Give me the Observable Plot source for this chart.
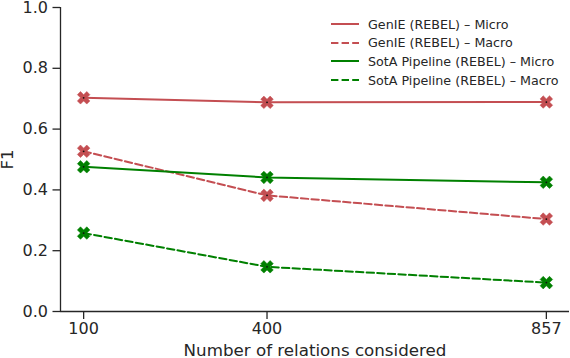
<!DOCTYPE html>
<html>
<head>
<meta charset="utf-8">
<script src="https://cdn.jsdelivr.net/npm/d3@7"></script>
<script src="https://cdn.jsdelivr.net/npm/@observablehq/plot@0.6"></script>
<style>
  body { margin: 0; background: #fff; }
  #wrap { position: relative; width: 570px; height: 358px; font-family: "DejaVu Sans", sans-serif; }
  #legend { position: absolute; left: 331px; top: 15px; font-size: 12.7px; color: #262626; }
  #legend .row { display: flex; align-items: center; height: 18.6px; }
  #legend svg { margin-right: 9px; }
</style>
</head>
<body>
<div id="wrap"></div>
<script>
const relations = [100, 400, 857];
const genieMicro = [0.703, 0.688, 0.689];
const genieMacro = [0.527, 0.382, 0.304];
const sotaMicro = [0.476, 0.441, 0.425];
const sotaMacro = [0.258, 0.147, 0.095];
const seriesNames = [
  "GenIE (REBEL) – Micro",
  "GenIE (REBEL) – Macro",
  "SotA Pipeline (REBEL) – Micro",
  "SotA Pipeline (REBEL) – Macro"
];
const yTicks = [0, 0.2, 0.4, 0.6, 0.8, 1.0];

const RED = "#c44e52", GREEN = "#008000";
const styles = [
  {color: RED, dash: null},
  {color: RED, dash: "7.4,3.2"},
  {color: GREEN, dash: null},
  {color: GREEN, dash: "7.4,3.2"}
];
const allValues = [genieMicro, genieMacro, sotaMicro, sotaMacro];
const series = allValues.map((vals, i) => relations.map((r, j) => ({x: r, y: vals[j], s: seriesNames[i]})));

const span = relations[relations.length - 1] - relations[0];
const xDomain = [relations[0] - 0.05 * span, relations[relations.length - 1] + 0.05 * span];
const axisColor = "#262626";

const marks = [];
series.forEach((d, i) => {
  marks.push(Plot.line(d, {x: "x", y: "y", stroke: styles[i].color, strokeWidth: 2, strokeDasharray: styles[i].dash}));
});
series.forEach((d, i) => {
  marks.push(Plot.dot(d, {x: "x", y: "y", symbol: "cross", rotate: 45, r: 5.6, fill: styles[i].color, stroke: styles[i].color, strokeWidth: 0.5}));
  marks.push(Plot.dot(d, {x: "x", y: "y", r: 0.9, fill: "#111"}));
});
marks.push(Plot.ruleX([xDomain[0]], {stroke: axisColor, strokeWidth: 1.3}));
marks.push(Plot.ruleY([0], {stroke: axisColor, strokeWidth: 1.3}));
marks.push(Plot.axisX({ticks: relations, tickFormat: d => String(d), tickSize: 8, tickPadding: 3.5, fontSize: 16, stroke: axisColor, strokeWidth: 1.3, color: axisColor,
  label: null}));
marks.push(Plot.axisX({ticks: [], tickSize: 0, fontSize: 16.7, color: axisColor,
  label: "Number of relations considered", labelAnchor: "center", labelArrow: "none", labelOffset: 44}));
marks.push(Plot.axisY({ticks: yTicks, tickFormat: d3.format(".1f"), tickSize: 7.5, tickPadding: 5, fontSize: 16, stroke: axisColor, strokeWidth: 1.3, color: axisColor,
  label: null}));
marks.push(Plot.axisY({ticks: [], tickSize: 0, fontSize: 16.7, color: axisColor,
  label: "F1", labelAnchor: "center", labelArrow: "none", labelOffset: 59}));

const chart = Plot.plot({
  width: 570,
  height: 358,
  marginLeft: 60,
  marginRight: 1,
  marginTop: 7,
  marginBottom: 47,
  style: {fontFamily: "DejaVu Sans, sans-serif", fontSize: "16px", color: axisColor, background: "#fff", overflow: "visible"},
  x: {type: "linear", domain: xDomain},
  y: {domain: [0, 1]},
  marks
});
const wrap = document.getElementById("wrap");
wrap.appendChild(chart);

const legend = document.createElement("div");
legend.id = "legend";
seriesNames.forEach((name, i) => {
  const row = document.createElement("div");
  row.className = "row";
  row.innerHTML = `<svg width="28" height="6"><line x1="0" y1="3" x2="28" y2="3" stroke="${styles[i].color}" stroke-width="2" ${styles[i].dash ? `stroke-dasharray="${styles[i].dash}"` : ""}/></svg><span>${name}</span>`;
  legend.appendChild(row);
});
wrap.appendChild(legend);
</script>
</body>
</html>
